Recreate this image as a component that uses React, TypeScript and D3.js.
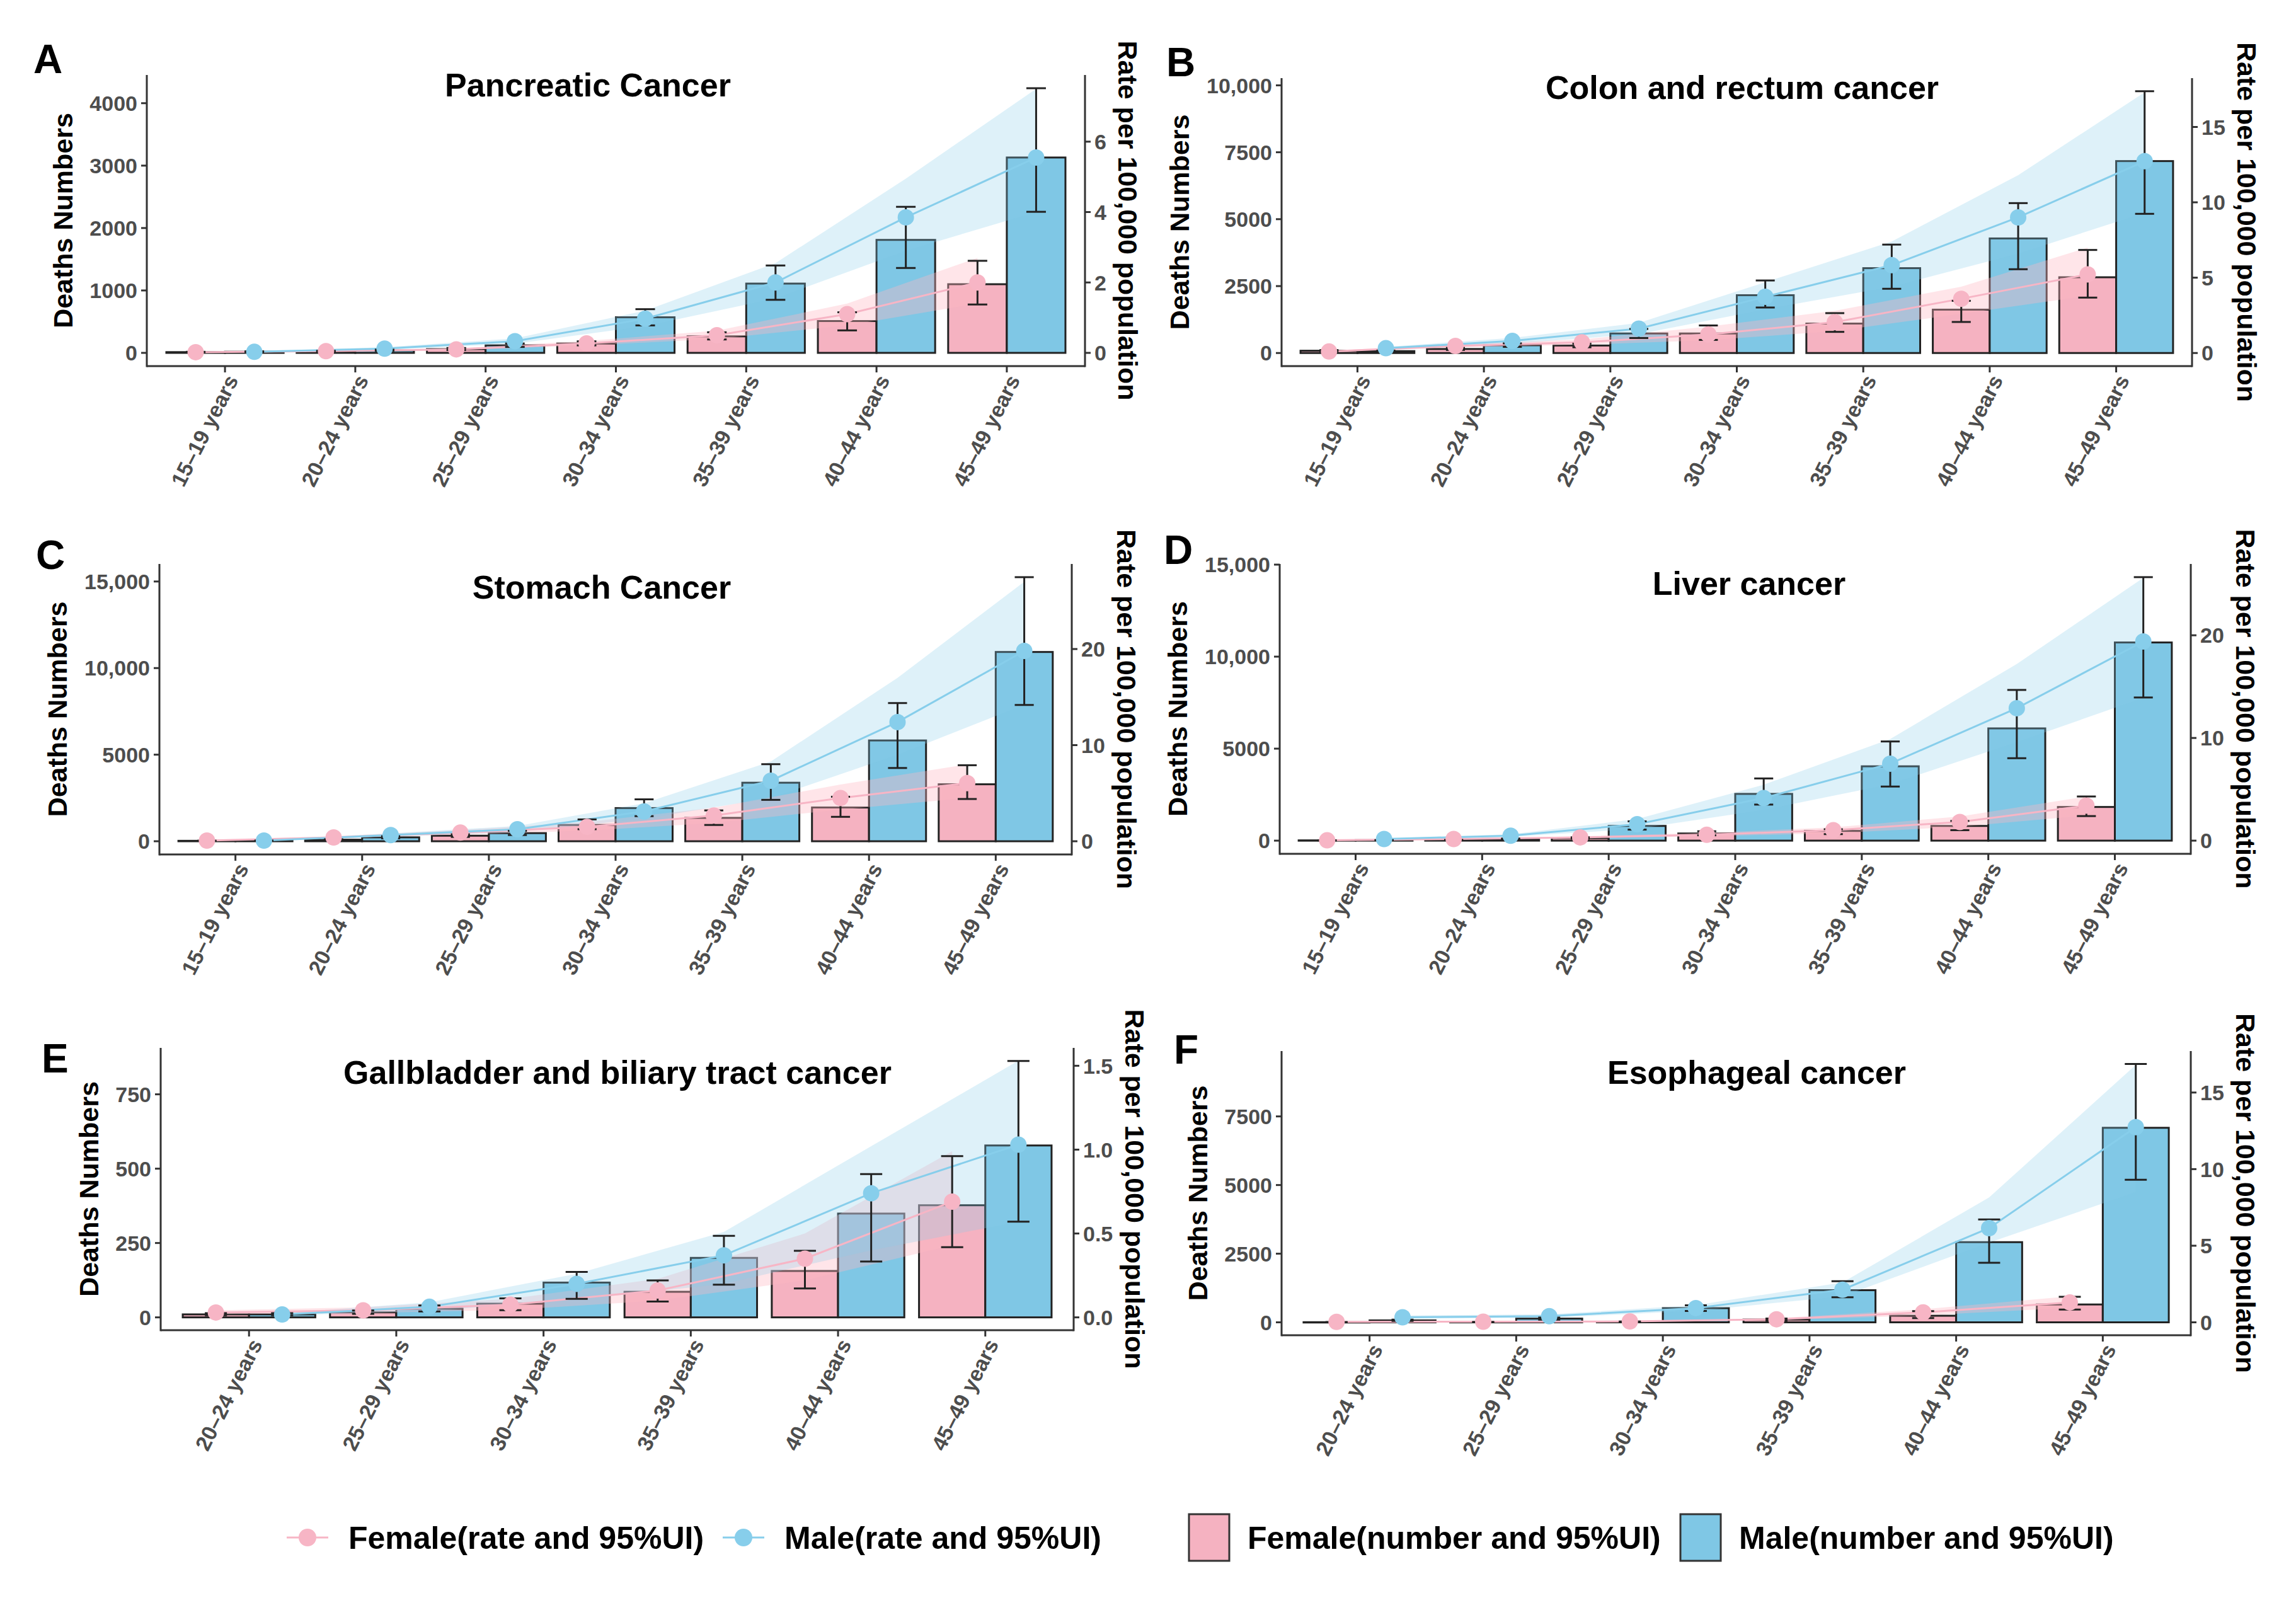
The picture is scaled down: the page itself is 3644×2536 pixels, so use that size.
import React from "react";
import * as d3 from "d3";

const W = 3644;
const H = 2536;
const FONT = "'Liberation Sans', Arial, Helvetica, sans-serif";

const PINK_BAR = "#F5B2C1";
const BLUE_BAR = "#7FC7E5";
const PINK = "#F7B5C5";
const BLUE = "#87CEEB";
const INK = "#222222";
const GREY = "#4D4D4D";

// age groups
const agesFrom15 = ["15–19 years", "20–24 years", "25–29 years", "30–34 years", "35–39 years", "40–44 years", "45–49 years"];
const agesFrom20 = ["20–24 years", "25–29 years", "30–34 years", "35–39 years", "40–44 years", "45–49 years"];

// A. Pancreatic cancer
const pancFemaleDeaths = [12, 25, 60, 150, 265, 510, 1100];
const pancFemaleDeathsLo = [8, 18, 45, 120, 215, 360, 775];
const pancFemaleDeathsHi = [17, 33, 78, 185, 330, 650, 1475];
const pancMaleDeaths = [18, 40, 120, 570, 1110, 1810, 3130];
const pancMaleDeathsLo = [12, 30, 95, 440, 850, 1360, 2260];
const pancMaleDeathsHi = [25, 52, 150, 700, 1400, 2340, 4240];
const pancFemaleRate = [0.02, 0.05, 0.1, 0.27, 0.5, 1.1, 2.0];
const pancFemaleRateLo = [0.015, 0.035, 0.08, 0.21, 0.4, 0.78, 1.4];
const pancFemaleRateHi = [0.03, 0.065, 0.13, 0.34, 0.63, 1.4, 2.7];
const pancMaleRate = [0.03, 0.12, 0.33, 0.97, 2.0, 3.85, 5.55];
const pancMaleRateLo = [0.02, 0.09, 0.26, 0.76, 1.55, 2.9, 4.0];
const pancMaleRateHi = [0.04, 0.16, 0.41, 1.2, 2.55, 4.95, 7.5];

// B. Colon and rectum cancer
const crcFemaleDeaths = [85, 150, 280, 730, 1100, 1620, 2830];
const crcFemaleDeathsLo = [65, 115, 215, 490, 790, 1160, 2070];
const crcFemaleDeathsHi = [110, 190, 350, 1030, 1490, 1950, 3850];
const crcMaleDeaths = [70, 290, 730, 2160, 3170, 4280, 7170];
const crcMaleDeathsLo = [55, 230, 560, 1700, 2400, 3130, 5200];
const crcMaleDeathsHi = [90, 360, 900, 2710, 4050, 5600, 9780];
const crcFemaleRate = [0.1, 0.47, 0.71, 1.23, 2.05, 3.6, 5.22];
const crcFemaleRateLo = [0.08, 0.36, 0.55, 0.85, 1.45, 2.6, 3.8];
const crcFemaleRateHi = [0.13, 0.6, 0.9, 1.75, 2.8, 4.4, 7.0];
const crcMaleRate = [0.32, 0.8, 1.62, 3.73, 5.83, 9.0, 12.73];
const crcMaleRateLo = [0.25, 0.63, 1.25, 2.9, 4.4, 6.6, 9.3];
const crcMaleRateHi = [0.41, 1.0, 2.0, 4.7, 7.4, 11.8, 17.3];

// C. Stomach cancer
const stoFemaleDeaths = [25, 90, 320, 940, 1350, 1950, 3290];
const stoFemaleDeathsLo = [18, 70, 250, 695, 940, 1410, 2440];
const stoFemaleDeathsHi = [33, 115, 400, 1260, 1780, 2570, 4390];
const stoMaleDeaths = [30, 225, 470, 1915, 3380, 5820, 10930];
const stoMaleDeathsLo = [22, 170, 360, 1450, 2390, 4230, 7870];
const stoMaleDeathsHi = [40, 290, 600, 2420, 4450, 7980, 15250];
const stoFemaleRate = [0.07, 0.4, 0.9, 1.5, 2.67, 4.5, 6.05];
const stoFemaleRateLo = [0.05, 0.3, 0.7, 1.1, 1.9, 3.3, 4.5];
const stoFemaleRateHi = [0.09, 0.52, 1.15, 2.0, 3.5, 5.9, 8.0];
const stoMaleRate = [0.07, 0.64, 1.25, 3.1, 6.3, 12.4, 19.8];
const stoMaleRateLo = [0.05, 0.48, 0.95, 2.35, 4.5, 9.0, 14.2];
const stoMaleRateHi = [0.09, 0.82, 1.6, 3.95, 8.3, 17.0, 27.0];

// D. Liver cancer
const livFemaleDeaths = [15, 30, 140, 390, 530, 800, 1830];
const livFemaleDeathsLo = [10, 22, 105, 290, 355, 570, 1335];
const livFemaleDeathsHi = [20, 40, 180, 510, 620, 1070, 2400];
const livMaleDeaths = [25, 90, 800, 2540, 4040, 6100, 10770];
const livMaleDeathsLo = [18, 70, 600, 1960, 2940, 4480, 7780];
const livMaleDeathsHi = [33, 115, 1050, 3380, 5390, 8190, 14320];
const livFemaleRate = [0.03, 0.16, 0.32, 0.57, 1.02, 1.82, 3.41];
const livFemaleRateLo = [0.02, 0.12, 0.24, 0.42, 0.72, 1.35, 2.45];
const livFemaleRateHi = [0.04, 0.21, 0.42, 0.76, 1.3, 2.35, 4.3];
const livMaleRate = [0.16, 0.48, 1.6, 4.15, 7.5, 12.9, 19.4];
const livMaleRateLo = [0.12, 0.37, 1.15, 3.0, 5.5, 9.6, 13.9];
const livMaleRateHi = [0.21, 0.62, 2.1, 5.45, 9.9, 17.2, 25.6];

// E. Gallbladder and biliary tract cancer
const gbFemaleDeaths = [10, 17, 46, 86, 156, 377];
const gbFemaleDeathsLo = [7, 12, 24, 53, 97, 236];
const gbFemaleDeathsHi = [14, 23, 64, 124, 224, 542];
const gbMaleDeaths = [10, 29, 117, 200, 349, 578];
const gbMaleDeathsLo = [7, 20, 62, 110, 188, 322];
const gbMaleDeathsHi = [14, 40, 153, 274, 482, 862];
const gbFemaleRate = [0.029, 0.042, 0.076, 0.16, 0.35, 0.69];
const gbFemaleRateLo = [0.018, 0.026, 0.045, 0.1, 0.22, 0.43];
const gbFemaleRateHi = [0.042, 0.06, 0.11, 0.23, 0.5, 0.99];
const gbMaleRate = [0.017, 0.063, 0.2, 0.37, 0.74, 1.03];
const gbMaleRateLo = [0.011, 0.038, 0.106, 0.2, 0.4, 0.57];
const gbMaleRateHi = [0.025, 0.09, 0.26, 0.51, 1.02, 1.53];

// F. Esophageal cancer
const escFemaleDeaths = [5, 10, 20, 100, 240, 650];
const escFemaleDeathsLo = [3, 7, 14, 70, 155, 465];
const escFemaleDeathsHi = [8, 14, 28, 135, 410, 930];
const escMaleDeaths = [70, 135, 517, 1170, 2920, 7085];
const escMaleDeathsLo = [50, 100, 414, 910, 2170, 5190];
const escMaleDeathsHi = [95, 175, 620, 1500, 3745, 9410];
const escFemaleRate = [0.03, 0.04, 0.06, 0.2, 0.65, 1.3];
const escFemaleRateLo = [0.02, 0.03, 0.04, 0.14, 0.45, 0.95];
const escFemaleRateHi = [0.04, 0.055, 0.08, 0.27, 0.85, 1.7];
const escMaleRate = [0.33, 0.4, 0.93, 2.13, 6.15, 12.74];
const escMaleRateLo = [0.24, 0.3, 0.75, 1.7, 5.2, 8.5];
const escMaleRateHi = [0.44, 0.52, 1.12, 2.6, 8.15, 16.8];

interface Series {
  n: number[];
  nLo: number[];
  nHi: number[];
  r: number[];
  rLo: number[];
  rHi: number[];
}

interface PanelSpec {
  letter: string;
  title: string;
  ages: string[];
  female: Series;
  male: Series;
  leftTicks: number[];
  rightTicks: number[];
  rightFmt: string;
  factor: number; // deaths per unit of rate on the secondary axis
  box: { x0: number; x1: number; y0: number; y1: number };
  letterAt: [number, number];
  titleAt: [number, number];
}

const panels: PanelSpec[] = [
  {
    letter: "A",
    title: "Pancreatic Cancer",
    ages: agesFrom15,
    female: { n: pancFemaleDeaths, nLo: pancFemaleDeathsLo, nHi: pancFemaleDeathsHi, r: pancFemaleRate, rLo: pancFemaleRateLo, rHi: pancFemaleRateHi },
    male: { n: pancMaleDeaths, nLo: pancMaleDeathsLo, nHi: pancMaleDeathsHi, r: pancMaleRate, rLo: pancMaleRateLo, rHi: pancMaleRateHi },
    leftTicks: [0, 1000, 2000, 3000, 4000],
    rightTicks: [0, 2, 4, 6],
    rightFmt: "d",
    factor: 564,
    box: { x0: 233, x1: 1722, y0: 119, y1: 581 },
    letterAt: [53, 116],
    titleAt: [933, 153],
  },
  {
    letter: "B",
    title: "Colon and rectum cancer",
    ages: agesFrom15,
    female: { n: crcFemaleDeaths, nLo: crcFemaleDeathsLo, nHi: crcFemaleDeathsHi, r: crcFemaleRate, rLo: crcFemaleRateLo, rHi: crcFemaleRateHi },
    male: { n: crcMaleDeaths, nLo: crcMaleDeathsLo, nHi: crcMaleDeathsHi, r: crcMaleRate, rLo: crcMaleRateLo, rHi: crcMaleRateHi },
    leftTicks: [0, 2500, 5000, 7500, 10000],
    rightTicks: [0, 5, 10, 15],
    rightFmt: "d",
    factor: 563,
    box: { x0: 2034, x1: 3479, y0: 124, y1: 581 },
    letterAt: [1851, 121],
    titleAt: [2765, 157],
  },
  {
    letter: "C",
    title: "Stomach Cancer",
    ages: agesFrom15,
    female: { n: stoFemaleDeaths, nLo: stoFemaleDeathsLo, nHi: stoFemaleDeathsHi, r: stoFemaleRate, rLo: stoFemaleRateLo, rHi: stoFemaleRateHi },
    male: { n: stoMaleDeaths, nLo: stoMaleDeathsLo, nHi: stoMaleDeathsHi, r: stoMaleRate, rLo: stoMaleRateLo, rHi: stoMaleRateHi },
    leftTicks: [0, 5000, 10000, 15000],
    rightTicks: [0, 10, 20],
    rightFmt: "d",
    factor: 555,
    box: { x0: 253, x1: 1701, y0: 895, y1: 1356 },
    letterAt: [57, 903],
    titleAt: [955, 950],
  },
  {
    letter: "D",
    title: "Liver cancer",
    ages: agesFrom15,
    female: { n: livFemaleDeaths, nLo: livFemaleDeathsLo, nHi: livFemaleDeathsHi, r: livFemaleRate, rLo: livFemaleRateLo, rHi: livFemaleRateHi },
    male: { n: livMaleDeaths, nLo: livMaleDeathsLo, nHi: livMaleDeathsHi, r: livMaleRate, rLo: livMaleRateLo, rHi: livMaleRateHi },
    leftTicks: [0, 5000, 10000, 15000],
    rightTicks: [0, 10, 20],
    rightFmt: "d",
    factor: 558,
    box: { x0: 2031, x1: 3477, y0: 895, y1: 1355 },
    letterAt: [1847, 895],
    titleAt: [2776, 944],
  },
  {
    letter: "E",
    title: "Gallbladder and biliary tract cancer",
    ages: agesFrom20,
    female: { n: gbFemaleDeaths, nLo: gbFemaleDeathsLo, nHi: gbFemaleDeathsHi, r: gbFemaleRate, rLo: gbFemaleRateLo, rHi: gbFemaleRateHi },
    male: { n: gbMaleDeaths, nLo: gbMaleDeathsLo, nHi: gbMaleDeathsHi, r: gbMaleRate, rLo: gbMaleRateLo, rHi: gbMaleRateHi },
    leftTicks: [0, 250, 500, 750],
    rightTicks: [0, 0.5, 1, 1.5],
    rightFmt: ".1f",
    factor: 564,
    box: { x0: 255, x1: 1704, y0: 1663, y1: 2111 },
    letterAt: [66, 1702],
    titleAt: [980, 1720],
  },
  {
    letter: "F",
    title: "Esophageal cancer",
    ages: agesFrom20,
    female: { n: escFemaleDeaths, nLo: escFemaleDeathsLo, nHi: escFemaleDeathsHi, r: escFemaleRate, rLo: escFemaleRateLo, rHi: escFemaleRateHi },
    male: { n: escMaleDeaths, nLo: escMaleDeathsLo, nHi: escMaleDeathsHi, r: escMaleRate, rLo: escMaleRateLo, rHi: escMaleRateHi },
    leftTicks: [0, 2500, 5000, 7500],
    rightTicks: [0, 5, 10, 15],
    rightFmt: "d",
    factor: 558,
    box: { x0: 2034, x1: 3477, y0: 1668, y1: 2119 },
    letterAt: [1863, 1688],
    titleAt: [2788, 1720],
  },
];

const TICK_SIZE = 34;
const leftFmt = (v: number) => (v >= 10000 ? d3.format(",")(v) : String(v));

let measureCtx: CanvasRenderingContext2D | null = null;
function textWidth(s: string, px: number) {
  if (!measureCtx) measureCtx = document.createElement("canvas").getContext("2d");
  if (!measureCtx) return s.length * px * 0.556;
  measureCtx.font = `bold ${px}px ${FONT}`;
  return measureCtx.measureText(s).width;
}

function Panel({ p }: { p: PanelSpec }) {
  const { x0, x1, y0, y1 } = p.box;
  const x = d3.scalePoint<string>().domain(p.ages).range([x0, x1]).padding(0.6);
  const step = x.step();

  const top =
    d3.max([
      ...p.female.nHi,
      ...p.male.nHi,
      ...p.female.rHi.map((v) => v * p.factor),
      ...p.male.rHi.map((v) => v * p.factor),
    ]) ?? 0;
  const pad = top * 0.05;
  const y = d3.scaleLinear().domain([-pad, top + pad]).range([y1, y0]);
  const yRate = d3.scaleLinear().domain([-pad / p.factor, (top + pad) / p.factor]).range([y1, y0]);

  const barW = step * 0.45;
  const cap = step * 0.075;

  const sexes = [
    { key: "f", s: p.female, dx: -barW / 2, bar: PINK_BAR, pt: PINK, rib: "#FFB6C1", ribOp: 0.36 },
    { key: "m", s: p.male, dx: barW / 2, bar: BLUE_BAR, pt: BLUE, rib: BLUE, ribOp: 0.28 },
  ];

  const leftW = d3.max(p.leftTicks.map((t) => textWidth(leftFmt(t), TICK_SIZE))) ?? 0;
  const rfmt = d3.format(p.rightFmt);
  const rightW = d3.max(p.rightTicks.map((t) => textWidth(rfmt(t), TICK_SIZE))) ?? 0;
  const midY = (y0 + y1) / 2;

  return (
    <g fontFamily={FONT}>
      {/* bars */}
      {sexes.map(({ key, s, dx, bar }) =>
        p.ages.map((a, i) => {
          const cx = (x(a) ?? 0) + dx;
          const yt = y(s.n[i]);
          return (
            <rect
              key={`${key}-bar-${a}`}
              x={cx - barW / 2}
              y={yt}
              width={barW}
              height={Math.max(y(0) - yt, 0.5)}
              fill={bar}
              stroke={INK}
              strokeWidth={3}
            />
          );
        })
      )}

      {/* rate uncertainty ribbons */}
      {sexes.map(({ key, s, dx, rib, ribOp }) => {
        const area = d3
          .area<number>()
          .x((_, i) => (x(p.ages[i]) ?? 0) + dx)
          .y0((_, i) => yRate(s.rLo[i]))
          .y1((_, i) => yRate(s.rHi[i]));
        return <path key={`${key}-rib`} d={area(s.r) ?? ""} fill={rib} fillOpacity={ribOp} />;
      })}

      {/* rate lines */}
      {sexes.map(({ key, s, dx, pt }) => {
        const line = d3
          .line<number>()
          .x((_, i) => (x(p.ages[i]) ?? 0) + dx)
          .y((v) => yRate(v));
        return <path key={`${key}-line`} d={line(s.r) ?? ""} fill="none" stroke={pt} strokeWidth={3} />;
      })}

      {/* death number error bars */}
      {sexes.map(({ key, s, dx }) =>
        p.ages.map((a, i) => {
          const cx = (x(a) ?? 0) + dx;
          const ylo = y(s.nLo[i]);
          const yhi = y(s.nHi[i]);
          return (
            <g key={`${key}-err-${a}`} stroke={INK} strokeWidth={3}>
              <line x1={cx} x2={cx} y1={ylo} y2={yhi} />
              <line x1={cx - cap} x2={cx + cap} y1={ylo} y2={ylo} />
              <line x1={cx - cap} x2={cx + cap} y1={yhi} y2={yhi} />
            </g>
          );
        })
      )}

      {/* rate points */}
      {sexes.map(({ key, s, dx, pt }) =>
        p.ages.map((a, i) => (
          <circle key={`${key}-pt-${a}`} cx={(x(a) ?? 0) + dx} cy={yRate(s.r[i])} r={13} fill={pt} />
        ))
      )}

      {/* axes */}
      <g stroke="#333" strokeWidth={3} fill="none">
        <line x1={x0} x2={x0} y1={y0} y2={y1 + 1.5} />
        <line x1={x1} x2={x1} y1={y0} y2={y1 + 1.5} />
        <line x1={x0} x2={x1} y1={y1} y2={y1} />
        {p.leftTicks.map((t) => (
          <line key={`lt${t}`} x1={x0 - 9} x2={x0} y1={y(t)} y2={y(t)} />
        ))}
        {p.rightTicks.map((t) => (
          <line key={`rt${t}`} x1={x1} x2={x1 + 9} y1={yRate(t)} y2={yRate(t)} />
        ))}
        {p.ages.map((a) => (
          <line key={`xt${a}`} x1={x(a)} x2={x(a)} y1={y1} y2={y1 + 10} />
        ))}
      </g>

      <g fontSize={TICK_SIZE} fontWeight="bold" fill={GREY}>
        {p.leftTicks.map((t) => (
          <text key={`ll${t}`} x={x0 - 15} y={y(t)} dy="0.36em" textAnchor="end">
            {leftFmt(t)}
          </text>
        ))}
        {p.rightTicks.map((t) => (
          <text key={`rl${t}`} x={x1 + 15} y={yRate(t)} dy="0.36em" textAnchor="start">
            {rfmt(t)}
          </text>
        ))}
        {p.ages.map((a) => (
          <text
            key={`xl${a}`}
            transform={`translate(${(x(a) ?? 0) + 22},${y1 + 22}) rotate(-63)`}
            textAnchor="end"
          >
            {a}
          </text>
        ))}
      </g>

      {/* axis titles */}
      <text
        transform={`translate(${x0 - 15 - leftW - 43},${midY}) rotate(-90)`}
        textAnchor="middle"
        dy="0.36em"
        fontSize={43}
        fontWeight="bold"
        fill="#000"
      >
        Deaths Numbers
      </text>
      <text
        transform={`translate(${x1 + 15 + rightW + 35},${midY}) rotate(90)`}
        textAnchor="middle"
        dy="0.36em"
        fontSize={43}
        fontWeight="bold"
        fill="#000"
      >
        Rate per 100,000 population
      </text>

      {/* title and panel letter */}
      <text x={p.titleAt[0]} y={p.titleAt[1]} textAnchor="middle" fontSize={52} fontWeight="bold" fill="#000">
        {p.title}
      </text>
      <text x={p.letterAt[0]} y={p.letterAt[1]} fontSize={64} fontWeight="bold" fill="#000">
        {p.letter}
      </text>
    </g>
  );
}

const legendItems = [
  { label: "Female(rate and 95%UI)", kind: "point", color: PINK, keyX: 488, textX: 553 },
  { label: "Male(rate and 95%UI)", kind: "point", color: BLUE, keyX: 1180, textX: 1245 },
  { label: "Female(number and 95%UI)", kind: "bar", color: PINK_BAR, keyX: 1919, textX: 1980 },
  { label: "Male(number and 95%UI)", kind: "bar", color: BLUE_BAR, keyX: 2699, textX: 2760 },
];

function Legend() {
  const ly = 2440;
  return (
    <g fontFamily={FONT}>
      {legendItems.map((it) => (
        <g key={it.label}>
          {it.kind === "point" ? (
            <>
              <line x1={it.keyX - 33} x2={it.keyX + 33} y1={ly} y2={ly} stroke={it.color} strokeWidth={3} />
              <circle cx={it.keyX} cy={ly} r={14} fill={it.color} />
            </>
          ) : (
            <rect x={it.keyX - 32} y={ly - 37} width={64} height={74} fill={it.color} stroke="#333" strokeWidth={3} />
          )}
          <text x={it.textX} y={ly} dy="0.36em" fontSize={50} fontWeight="bold" fill="#000">
            {it.label}
          </text>
        </g>
      ))}
    </g>
  );
}

export default function App() {
  return (
    <>
      <style>{"body{margin:0;background:#fff}"}</style>
      <svg width={W} height={H} viewBox={`0 0 ${W} ${H}`} style={{ display: "block", background: "#fff" }}>
        <rect width={W} height={H} fill="#fff" />
        {panels.map((p) => (
          <Panel key={p.letter} p={p} />
        ))}
        <Legend />
      </svg>
    </>
  );
}
